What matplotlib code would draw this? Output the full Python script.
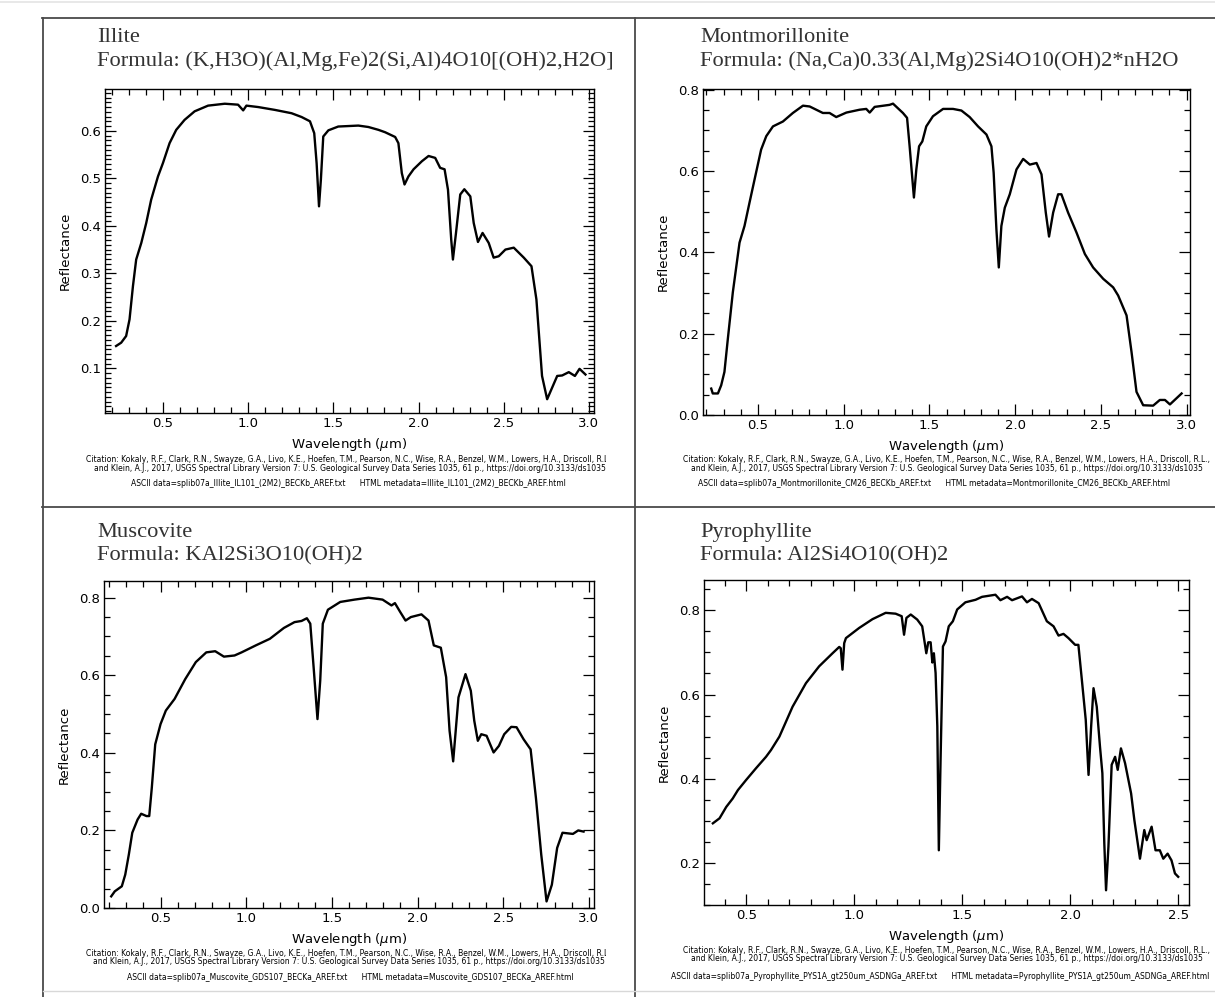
import matplotlib
matplotlib.use("Agg")
import matplotlib.pyplot as plt
from matplotlib.ticker import MultipleLocator, FormatStrFormatter
from matplotlib.patches import Rectangle

# ---------------- data ----------------
illite_wl = [0.225, 0.255, 0.284, 0.304, 0.324, 0.343, 0.373, 0.402, 0.431, 0.471, 0.5, 0.539, 0.578,
             0.627, 0.686, 0.765, 0.863, 0.941, 0.971, 0.990, 1.059, 1.157, 1.255, 1.314, 1.363, 1.388,
             1.402, 1.416, 1.427, 1.441, 1.471, 1.529, 1.647, 1.706, 1.765, 1.804, 1.863, 1.882, 1.902,
             1.918, 1.941, 1.971, 2.020, 2.059, 2.098, 2.127, 2.153, 2.173, 2.192, 2.202, 2.220, 2.245,
             2.269, 2.304, 2.324, 2.349, 2.376, 2.412, 2.441, 2.471, 2.510, 2.559, 2.618, 2.663, 2.692,
             2.725, 2.755, 2.814, 2.843, 2.882, 2.918, 2.945, 2.980]
illite_refl = [0.147, 0.154, 0.168, 0.203, 0.273, 0.329, 0.364, 0.406, 0.455, 0.504, 0.532, 0.574, 0.602,
               0.623, 0.641, 0.653, 0.657, 0.655, 0.643, 0.653, 0.650, 0.644, 0.637, 0.629, 0.620, 0.595,
               0.532, 0.441, 0.497, 0.588, 0.601, 0.609, 0.611, 0.608, 0.602, 0.597, 0.587, 0.574, 0.511,
               0.487, 0.504, 0.519, 0.536, 0.547, 0.543, 0.522, 0.519, 0.476, 0.371, 0.329, 0.385, 0.466,
               0.477, 0.462, 0.406, 0.366, 0.385, 0.364, 0.333, 0.336, 0.350, 0.354, 0.333, 0.315, 0.245,
               0.084, 0.035, 0.084, 0.085, 0.092, 0.084, 0.099, 0.087]

mont_wl = [0.228, 0.237, 0.267, 0.286, 0.305, 0.325, 0.354, 0.393, 0.422, 0.451, 0.481, 0.519, 0.549,
           0.588, 0.646, 0.704, 0.763, 0.802, 0.879, 0.918, 0.957, 1.016, 1.093, 1.132, 1.152, 1.181,
           1.268, 1.288, 1.346, 1.370, 1.385, 1.401, 1.410, 1.424, 1.440, 1.459, 1.482, 1.521, 1.580,
           1.638, 1.687, 1.735, 1.784, 1.833, 1.862, 1.875, 1.891, 1.905, 1.920, 1.940, 1.969, 2.008,
           2.047, 2.086, 2.125, 2.154, 2.179, 2.198, 2.222, 2.251, 2.270, 2.309, 2.358, 2.407, 2.455,
           2.514, 2.572, 2.601, 2.650, 2.679, 2.708, 2.747, 2.805, 2.844, 2.874, 2.903, 2.971]
mont_refl = [0.065, 0.053, 0.053, 0.073, 0.106, 0.188, 0.302, 0.424, 0.465, 0.522, 0.580, 0.653, 0.686,
             0.710, 0.722, 0.743, 0.761, 0.759, 0.743, 0.743, 0.733, 0.744, 0.751, 0.753, 0.744, 0.758,
             0.763, 0.766, 0.743, 0.731, 0.661, 0.580, 0.535, 0.604, 0.661, 0.673, 0.710, 0.735, 0.753,
             0.753, 0.749, 0.733, 0.710, 0.690, 0.661, 0.596, 0.457, 0.363, 0.465, 0.510, 0.543, 0.604,
             0.630, 0.616, 0.620, 0.592, 0.498, 0.439, 0.498, 0.543, 0.543, 0.498, 0.449, 0.396, 0.363,
             0.335, 0.314, 0.294, 0.245, 0.155, 0.057, 0.024, 0.023, 0.037, 0.037, 0.026, 0.053]

musc_wl = [0.212, 0.233, 0.274, 0.294, 0.315, 0.335, 0.366, 0.387, 0.418, 0.434, 0.449, 0.469, 0.5,
           0.531, 0.582, 0.644, 0.706, 0.767, 0.819, 0.870, 0.932, 0.973, 1.056, 1.138, 1.220, 1.282,
           1.323, 1.354, 1.374, 1.395, 1.416, 1.432, 1.447, 1.477, 1.549, 1.632, 1.714, 1.796, 1.848,
           1.868, 1.899, 1.930, 1.961, 2.023, 2.064, 2.095, 2.136, 2.167, 2.187, 2.208, 2.239, 2.280,
           2.311, 2.331, 2.352, 2.372, 2.403, 2.444, 2.475, 2.506, 2.547, 2.578, 2.619, 2.660, 2.691,
           2.722, 2.753, 2.784, 2.815, 2.846, 2.907, 2.938, 2.969]
musc_refl = [0.030, 0.043, 0.056, 0.086, 0.138, 0.194, 0.228, 0.243, 0.237, 0.237, 0.310, 0.422, 0.474,
             0.509, 0.539, 0.590, 0.634, 0.659, 0.662, 0.648, 0.651, 0.659, 0.677, 0.694, 0.722, 0.737,
             0.740, 0.747, 0.733, 0.612, 0.487, 0.586, 0.733, 0.769, 0.789, 0.795, 0.800, 0.795, 0.780,
             0.786, 0.763, 0.741, 0.750, 0.757, 0.741, 0.677, 0.671, 0.595, 0.457, 0.378, 0.543, 0.603,
             0.560, 0.483, 0.431, 0.448, 0.444, 0.401, 0.418, 0.448, 0.467, 0.466, 0.435, 0.409, 0.284,
             0.138, 0.017, 0.060, 0.155, 0.194, 0.191, 0.200, 0.197]

pyro_wl = [0.346, 0.377, 0.408, 0.438, 0.462, 0.5, 0.546, 0.592, 0.615, 0.654, 0.715, 0.777, 0.838, 0.9,
           0.931, 0.938, 0.946, 0.954, 0.962, 1.023, 1.085, 1.146, 1.192, 1.220, 1.231, 1.242, 1.262,
           1.292, 1.315, 1.334, 1.343, 1.354, 1.362, 1.369, 1.377, 1.385, 1.392, 1.400, 1.411, 1.423,
           1.438, 1.457, 1.477, 1.515, 1.562, 1.592, 1.654, 1.677, 1.708, 1.731, 1.777, 1.800, 1.823,
           1.854, 1.892, 1.923, 1.946, 1.969, 1.992, 2.023, 2.038, 2.054, 2.072, 2.085, 2.097, 2.108,
           2.123, 2.138, 2.149, 2.158, 2.166, 2.177, 2.192, 2.208, 2.220, 2.235, 2.254, 2.282, 2.297,
           2.323, 2.343, 2.354, 2.377, 2.395, 2.415, 2.431, 2.451, 2.469, 2.485, 2.5]
pyro_refl = [0.294, 0.306, 0.333, 0.353, 0.373, 0.397, 0.425, 0.452, 0.468, 0.500, 0.571, 0.627, 0.667,
             0.698, 0.713, 0.710, 0.659, 0.722, 0.734, 0.758, 0.779, 0.794, 0.792, 0.786, 0.742, 0.782,
             0.790, 0.778, 0.762, 0.698, 0.724, 0.724, 0.676, 0.698, 0.651, 0.524, 0.230, 0.444, 0.714,
             0.726, 0.762, 0.774, 0.802, 0.819, 0.825, 0.832, 0.837, 0.824, 0.832, 0.824, 0.833, 0.819,
             0.827, 0.817, 0.774, 0.762, 0.740, 0.744, 0.734, 0.718, 0.718, 0.635, 0.540, 0.409, 0.524,
             0.615, 0.571, 0.476, 0.413, 0.246, 0.135, 0.238, 0.433, 0.452, 0.421, 0.472, 0.437, 0.365,
             0.302, 0.210, 0.278, 0.254, 0.286, 0.230, 0.230, 0.210, 0.222, 0.206, 0.175, 0.167]

names = ["Illite", "Montmorillonite", "Muscovite", "Pyrophyllite"]
formulas = ["Formula: (K,H3O)(Al,Mg,Fe)2(Si,Al)4O10[(OH)2,H2O]",
            "Formula: (Na,Ca)0.33(Al,Mg)2Si4O10(OH)2*nH2O",
            "Formula: KAl2Si3O10(OH)2",
            "Formula: Al2Si4O10(OH)2"]
ascii_files = ["splib07a_Illite_IL101_(2M2)_BECKb_AREF.txt",
               "splib07a_Montmorillonite_CM26_BECKb_AREF.txt",
               "splib07a_Muscovite_GDS107_BECKa_AREF.txt",
               "splib07a_Pyrophyllite_PYS1A_gt250um_ASDNGa_AREF.txt"]
html_files = ["Illite_IL101_(2M2)_BECKb_AREF.html",
              "Montmorillonite_CM26_BECKb_AREF.html",
              "Muscovite_GDS107_BECKa_AREF.html",
              "Pyrophyllite_PYS1A_gt250um_ASDNGa_AREF.html"]
cite1 = ("Citation: Kokaly, R.F., Clark, R.N., Swayze, G.A., Livo, K.E., Hoefen, T.M., Pearson, N.C., "
         "Wise, R.A., Benzel, W.M., Lowers, H.A., Driscoll, R.L.,")
cite2 = ("and Klein, A.J., 2017, USGS Spectral Library Version 7: U.S. Geological Survey Data Series 1035, "
         "61 p., https://doi.org/10.3133/ds1035")

# ---------------- layout (pixels) ----------------
W, H = 1215, 997
fig = plt.figure(figsize=(W / 100, H / 100), dpi=100)
bg = fig.add_axes([0, 0, 1, 1], zorder=0)
bg.set_xlim(0, W)
bg.set_ylim(H, 0)
bg.axis("off")

frame_c = "#4a4a4a"
bg.plot([0, W], [2, 2], color="#e4e4e4", lw=1.2)
bg.plot([42, W], [18, 18], color=frame_c, lw=1.3)
bg.plot([43, 43], [18, H], color=frame_c, lw=1.3)
bg.plot([635, 635], [18, H], color=frame_c, lw=1.3)
bg.plot([42, W], [507, 507], color=frame_c, lw=1.3)
bg.plot([43, W], [991, 991], color="#d8d8d8", lw=1.0)

panels = [
    dict(wl=illite_wl, r=illite_refl, box=(105, 89, 594, 413), xlim=(0.16, 3.03), ylim=(0.006, 0.688),
         ymaj=0.1, ymin=0.01, title_x=97, title_y=37, clip=606, cy=(459.5, 468, 483), ax3=348),
    dict(wl=mont_wl, r=mont_refl, box=(703, 89, 1190, 415), xlim=(0.18, 3.02), ylim=(0.0, 0.802),
         ymaj=0.2, ymin=0.05, title_x=700, title_y=37, clip=W, cy=(459.5, 468, 483), ax3=934),
    dict(wl=musc_wl, r=musc_refl, box=(104, 581, 594, 908), xlim=(0.17, 3.03), ylim=(0.0, 0.843),
         ymaj=0.2, ymin=0.05, title_x=97, title_y=532, clip=606, cy=(953, 961.5, 977), ax3=350),
    dict(wl=pyro_wl, r=pyro_refl, box=(704, 580, 1189, 905), xlim=(0.305, 2.55), ylim=(0.10, 0.872),
         ymaj=0.2, ymin=0.05, title_x=700, title_y=532, clip=W, cy=(950, 958.5, 976), ax3=940),
]

sans = "DejaVu Sans"
serif = "Liberation Serif"
fig.canvas.draw()
renderer = fig.canvas.get_renderer()


def fit_size(txt, width_px, base=6.0):
    t = bg.text(0, 0, txt, fontsize=base, family=sans)
    w = t.get_window_extent(renderer).width
    t.remove()
    return base * width_px / w


cite_fs = fit_size(cite1, 535)

for i, p in enumerate(panels):
    l, t, r, b = p["box"]
    ax = fig.add_axes([l / W, 1 - b / H, (r - l) / W, (b - t) / H], zorder=2)
    ax.plot(p["wl"], p["r"], color="black", lw=1.7)
    ax.set_xlim(*p["xlim"])
    ax.set_ylim(*p["ylim"])
    ax.xaxis.set_major_locator(MultipleLocator(0.5))
    ax.xaxis.set_minor_locator(MultipleLocator(0.1))
    ax.yaxis.set_major_locator(MultipleLocator(p["ymaj"]))
    ax.yaxis.set_minor_locator(MultipleLocator(p["ymin"]))
    ax.xaxis.set_major_formatter(FormatStrFormatter("%.1f"))
    ax.yaxis.set_major_formatter(FormatStrFormatter("%.1f"))
    ax.tick_params(which="both", direction="in", top=True, right=True, width=0.9, colors="black")
    ax.tick_params(which="major", length=8, labelsize=9.5, pad=3)
    ax.tick_params(which="minor", length=4)
    for s in ax.spines.values():
        s.set_linewidth(1.0)
    for lab in ax.get_xticklabels() + ax.get_yticklabels():
        lab.set_family(sans)
    ax.set_xlabel(r"Wavelength ($\mu$m)", fontsize=9.5, family=sans, labelpad=4)
    ax.set_ylabel("Reflectance", fontsize=9.5, family=sans, labelpad=6)

    # titles
    bg.text(p["title_x"], p["title_y"], names[i], fontsize=16.2, family=serif, color="#333333",
            ha="left", va="center")
    bg.text(p["title_x"], p["title_y"] + 24, formulas[i], fontsize=16.2, family=serif, color="#333333",
            ha="left", va="center")

    # citation block
    cx = (l + r) / 2
    y1, y2, y3 = p["cy"]
    clip_rect = Rectangle((0, 0), p["clip"], H, transform=bg.transData)
    t1 = bg.text(cx, y1, cite1, fontsize=cite_fs, family=sans, ha="center", va="center")
    t2 = bg.text(cx, y2, cite2, fontsize=cite_fs, family=sans, ha="center", va="center")
    t3 = bg.text(p["ax3"], y3, "ASCII data=" + ascii_files[i] + "      HTML metadata=" + html_files[i],
                 fontsize=cite_fs, family=sans, ha="center", va="center")
    for tt in (t1, t2, t3):
        tt.set_clip_on(True)
        tt.set_clip_path(clip_rect)

fig.savefig("out.png", dpi=100)
